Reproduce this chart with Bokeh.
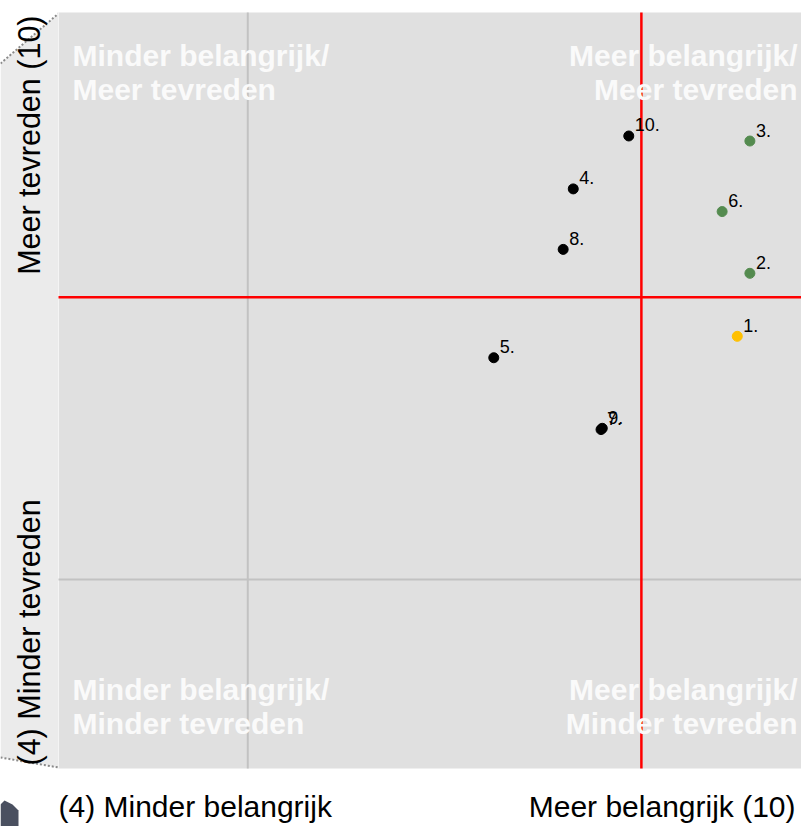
import math
from bokeh.plotting import figure
from bokeh.models import Range1d, ColumnDataSource
from bokeh.core.properties import value
from bokeh.embed import file_html
from bokeh.resources import INLINE

# ---------------- data ----------------
item_labels = ["1.", "2.", "3.", "4.", "5.", "6.", "7.", "8.", "9.", "10."]
importance = [9.38, 9.48, 9.48, 8.08, 7.45, 9.26, 8.30, 8.00, 8.31, 8.52]
satisfaction = [7.43, 7.93, 8.98, 8.60, 7.26, 8.42, 6.69, 8.12, 6.70, 9.02]
item_group = ["focus", "strong", "strong", "other", "other", "strong",
              "other", "other", "other", "other"]
group_colors = {"focus": "#ffc000", "strong": "#548b4f", "other": "#000000"}

scale_min, scale_max = 4, 10
mean_importance = 8.62
mean_satisfaction = 7.74
grid_value = 5.5

x_title_low = "(4) Minder belangrijk"
x_title_high = "Meer belangrijk (10)"
y_title_high = "Meer tevreden (10)"
y_title_low = "(4) Minder tevreden"

quadrant_tl = ["Minder belangrijk/", "Meer tevreden"]
quadrant_tr = ["Meer belangrijk/", "Meer tevreden"]
quadrant_bl = ["Minder belangrijk/", "Minder tevreden"]
quadrant_br = ["Meer belangrijk/", "Minder tevreden"]

# ---------------- layout (pixel geometry of the page) ----------------
W, H = 801, 826
FR_L, FR_T = 58, 12      # plot frame left/top in px
PX_X = 757 / 6.0         # px per unit horizontally
PX_Y = 756 / 6.0         # px per unit vertically
BASE_FIX = 8             # renderer puts the alphabetic baseline ~8px low at 30px


def px2x(X):
    return scale_min + (X - FR_L) / PX_X


def px2y(Y):
    return scale_max - (Y - FR_T) / PX_Y


x_range = Range1d(px2x(0), px2x(W))
y_range = Range1d(px2y(H), px2y(0))

p = figure(width=W, height=H, x_range=x_range, y_range=y_range,
           output_backend="svg", toolbar_location=None,
           x_axis_location=None, y_axis_location=None,
           min_border=0, outline_line_color=None,
           background_fill_color="white", border_fill_color="white")
p.grid.visible = False

FONT = value("Liberation Sans")

# left "wall" strip
strip_x = [px2x(0), px2x(58), px2x(58), px2x(0)]
strip_y = [px2y(63), px2y(13), px2y(767), px2y(757)]
p.patch(strip_x, strip_y, fill_color="#ebebeb", line_color=None)
p.line([px2x(0), px2x(58)], [px2y(63), px2y(13)], line_color="#8a8a8a",
       line_width=2, line_dash="2 2")
p.line([px2x(0), px2x(58)], [px2y(757), px2y(767)], line_color="#8a8a8a",
       line_width=2, line_dash="2 2")

# small dark corner artefact bottom-left
p.patch([px2x(0), px2x(4), px2x(12), px2x(18), px2x(18), px2x(0)],
        [px2y(804), px2y(800), px2y(804), px2y(810), px2y(826), px2y(826)],
        fill_color="#4a5060", line_color=None)

# plot background
p.quad(left=scale_min, right=scale_max, bottom=scale_min, top=scale_max,
       fill_color="#e0e0e0", line_color=None)
p.line([scale_min, scale_min], [scale_min, scale_max], line_color="#f4f4f4",
       line_width=1)

# grid lines
p.segment(x0=[grid_value, scale_min], y0=[scale_min, grid_value],
          x1=[grid_value, scale_max], y1=[scale_max, grid_value],
          line_color="#c2c2c2", line_width=2)

# mean (red) lines
p.segment(x0=[mean_importance, scale_min], y0=[scale_min, mean_satisfaction],
          x1=[mean_importance, scale_max], y1=[scale_max, mean_satisfaction],
          line_color="#ff0000", line_width=2.5)

# points
src = ColumnDataSource(dict(x=importance, y=satisfaction, t=item_labels,
                            c=[group_colors[g] for g in item_group]))
p.scatter("x", "y", source=src, size=10, fill_color="c", line_color="c")
p.text("x", "y", text="t", source=src, x_offset=6, y_offset=-11,
       text_font=FONT, text_font_size="18px", text_color="#000000",
       text_align="left", text_baseline="alphabetic")

# quadrant labels
qx_left = px2x(72)
qx_right = px2x(797)
top_base = [px2y(63 - BASE_FIX), px2y(97 - BASE_FIX)]
bot_base = [px2y(697 - BASE_FIX), px2y(731 - BASE_FIX)]
for lines, xx, ys, align in [(quadrant_tl, qx_left, top_base, "left"),
                             (quadrant_tr, qx_right, top_base, "right"),
                             (quadrant_bl, qx_left, bot_base, "left"),
                             (quadrant_br, qx_right, bot_base, "right")]:
    p.text(x=[xx, xx], y=ys, text=lines, text_font=FONT,
           text_font_size="30px", text_font_style="bold",
           text_color="#fafafa", text_align=align,
           text_baseline="alphabetic")

# axis titles
p.text(x=[px2x(58)], y=[px2y(814 - BASE_FIX)], text=[x_title_low],
       text_font=FONT, text_font_size="30px", text_color="#000000",
       text_align="left", text_baseline="alphabetic")
p.text(x=[px2x(795)], y=[px2y(814 - BASE_FIX)], text=[x_title_high],
       text_font=FONT, text_font_size="30px", text_color="#000000",
       text_align="right", text_baseline="alphabetic")
p.text(x=[px2x(36 - BASE_FIX)], y=[px2y(15)], text=[y_title_high],
       text_font=FONT, text_font_size="30.5px", text_color="#000000",
       text_align="right", text_baseline="alphabetic", angle=math.pi / 2)
p.text(x=[px2x(36 - BASE_FIX)], y=[px2y(765)], text=[y_title_low],
       text_font=FONT, text_font_size="30.5px", text_color="#000000",
       text_align="left", text_baseline="alphabetic", angle=math.pi / 2)

open("out.html", "w").write(file_html(p, INLINE))
